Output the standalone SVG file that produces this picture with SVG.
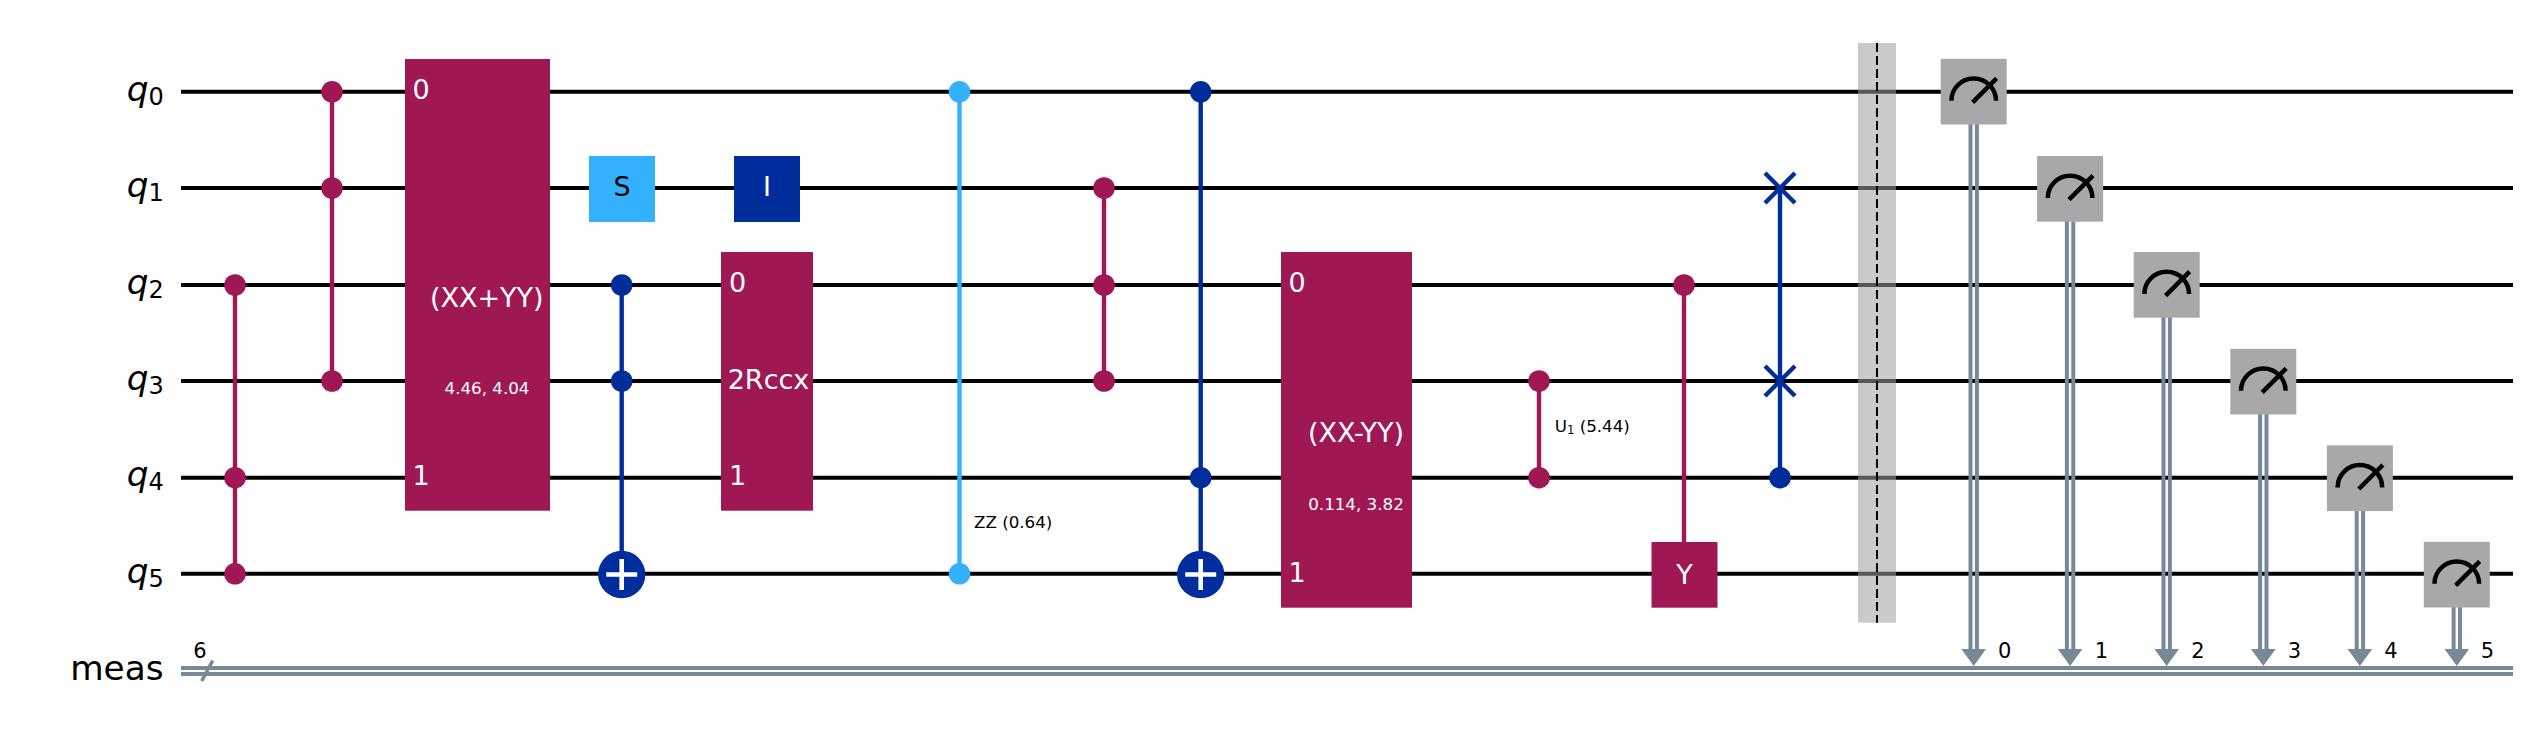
<svg xmlns="http://www.w3.org/2000/svg" xmlns:xlink="http://www.w3.org/1999/xlink" width="2535" height="744" viewBox="0 0 2535 744">
<style>
text{font-family:"DejaVu Sans",sans-serif}
.w{stroke:#000;stroke-width:4;fill:none}
.c{stroke:#778899;stroke-width:4;fill:none}
.m{fill:#9f1853}.b{fill:#002d9c}.a{fill:#33b1ff}.g{fill:#a8a8a8}
.lm{stroke:#9f1853;stroke-width:4.4;fill:none}.lb{stroke:#002d9c;stroke-width:4.4;fill:none}.la{stroke:#33b1ff;stroke-width:4.4;fill:none}
.gt{font-size:27px;fill:#fff}
.gc{font-size:27px;fill:#fff;text-anchor:middle}
.sp{font-size:16.700px;fill:#fff;text-anchor:middle}
.lab{font-size:16.700px;fill:#000}
.reg{font-size:34.300px;fill:#000;font-style:italic}
.sub{font-size:24px;font-style:normal}
.num{font-size:21px;fill:#000;text-anchor:middle}
.ar{fill:#778899}
.nd{stroke:#000;stroke-width:4.5;fill:none}
.pl{stroke:#fff;stroke-width:4.6;fill:none}
.sw{stroke:#002d9c;stroke-width:4.4;fill:none}
</style>
<defs>
<g id="meter"><rect class="g" x="-33" y="-33" width="66" height="65.700"/><path class="nd" d="M-22.300 9A22.300 22.300 0 0 1 22.300 9M-1.100 10.600L22.900 -13.400"/></g>
<g id="plus"><circle class="b" r="23.700"/><path class="pl" d="M-15.500 0H15.500M0 -15.500V15.500"/></g>
<path id="cross" class="sw" d="M-15 -15L15 15M-15 15L15 -15"/>
<polygon id="head" class="ar" points="-12.300,-17 12.300,-17 0,0"/>
</defs>
<rect width="2535" height="744" fill="#fff"/>
<g id="connectors">
<g id="wires">
<path class="w" d="M181 91.800H2513M181 188H2513M181 285H2513M181 381H2513M181 477.700H2513M181 573.800H2513"/>
<path class="c" d="M181 668H2513M181 674H2513"/>
<path d="M201.700 681L212.700 660.700" stroke="#778899" stroke-width="3.500" fill="none"/>
</g>
<path class="lm" d="M235 285V573.800M332 91.800V381M1104 188V381M1539 381V477.700M1684 285V542"/>
<path class="lb" d="M621.700 285V574M1200.700 91.800V574M1780 188V477.700"/>
<path class="la" d="M959.500 91.800V573.800"/>
<path class="c" d="M1970.500 92V650M1976.900 92V650M2066.900 188.500V650M2073.300 188.500V650M2163.500 285V650M2169.900 285V650M2260.100 381.500V650M2266.500 381.500V650M2356.700 478V650M2363.100 478V650M2453.600 574V650M2460 574V650"/>
</g>
<g id="reg-q0"><text class="reg" x="126.800" y="100.500">q<tspan class="sub" dy="4">0</tspan></text></g>
<g id="reg-q1"><text class="reg" x="126.800" y="196.700">q<tspan class="sub" dy="4">1</tspan></text></g>
<g id="reg-q2"><text class="reg" x="126.800" y="293.700">q<tspan class="sub" dy="4">2</tspan></text></g>
<g id="reg-q3"><text class="reg" x="126.800" y="389.700">q<tspan class="sub" dy="4">3</tspan></text></g>
<g id="reg-q4"><text class="reg" x="126.800" y="486.400">q<tspan class="sub" dy="4">4</tspan></text></g>
<g id="reg-q5"><text class="reg" x="126.800" y="582.500">q<tspan class="sub" dy="4">5</tspan></text></g>
<g id="reg-meas"><text x="70.200" y="680" style="font-size:34.300px">meas</text><text class="num" x="200" y="658">6</text></g>
<g id="ccz1" class="m"><circle cx="235" cy="285" r="10.800"/><circle cx="235" cy="477.700" r="10.800"/><circle cx="235" cy="573.800" r="10.800"/></g>
<g id="ccz2" class="m"><circle cx="332" cy="91.800" r="10.800"/><circle cx="332" cy="188" r="10.800"/><circle cx="332" cy="381" r="10.800"/></g>
<g id="xxplusyy"><rect class="m" x="405" y="59" width="145" height="451.700"/><text class="gt" x="412.500" y="98.500">0</text><text class="gt" x="412.500" y="485">1</text><text class="gc" x="486.800" y="306.500">(XX+YY)</text><text class="sp" x="487" y="394">4.46, 4.04</text></g>
<g id="s-gate"><rect class="a" x="589" y="156" width="66" height="66"/><text class="gc" x="622" y="196" style="fill:#000">S</text></g>
<g id="i-gate"><rect class="b" x="734" y="156" width="66" height="66"/><text class="gc" x="767" y="196">I</text></g>
<g id="ccx1"><circle class="b" cx="621.700" cy="285" r="10.800"/><circle class="b" cx="621.700" cy="381" r="10.800"/><use xlink:href="#plus" href="#plus" x="621.700" y="574.500"/></g>
<g id="rccx"><rect class="m" x="721" y="252" width="92" height="258.700"/><text class="gt" x="729" y="292">0</text><text class="gt" x="729" y="485">1</text><text class="gc" x="768.500" y="389.300">2Rccx</text></g>
<g id="zz"><circle class="a" cx="959.500" cy="91.800" r="10.800"/><circle class="a" cx="959.500" cy="573.800" r="10.800"/><text class="lab" x="974" y="527.500">ZZ (0.64)</text></g>
<g id="ccz3" class="m"><circle cx="1104" cy="188" r="10.800"/><circle cx="1104" cy="285" r="10.800"/><circle cx="1104" cy="381" r="10.800"/></g>
<g id="ccx2"><circle class="b" cx="1200.700" cy="91.800" r="10.800"/><circle class="b" cx="1200.700" cy="477.700" r="10.800"/><use xlink:href="#plus" href="#plus" x="1200.700" y="574.500"/></g>
<g id="xxminusyy"><rect class="m" x="1281" y="252" width="131" height="355.700"/><text class="gt" x="1288.500" y="292">0</text><text class="gt" x="1288.500" y="582">1</text><text class="gc" x="1356" y="441.500">(XX-YY)</text><text class="sp" x="1356" y="510">0.114, 3.82</text></g>
<g id="cu1"><circle class="m" cx="1539" cy="381" r="10.800"/><circle class="m" cx="1539" cy="477.700" r="10.800"/><text class="lab" x="1554.700" y="432.300">U<tspan font-size="11.700" dy="2">1</tspan><tspan dy="-2"> (5.44)</tspan></text></g>
<g id="cy"><circle class="m" cx="1684" cy="285" r="10.800"/><rect class="m" x="1651.500" y="542" width="66" height="65.700"/><text class="gc" x="1684.500" y="584">Y</text></g>
<g id="swap"><use xlink:href="#cross" href="#cross" x="1780" y="188"/><use xlink:href="#cross" href="#cross" x="1780" y="381"/><circle class="b" cx="1780" cy="477.700" r="10.800"/></g>
<g id="barrier"><rect x="1858" y="43" width="38" height="579.700" fill="#9e9e9e" fill-opacity=".55"/><path d="M1877 43V622.700" stroke="#000" stroke-width="2" stroke-dasharray="9 4" fill="none"/></g>
<g id="m0"><use xlink:href="#meter" href="#meter" x="1973.700" y="91.800"/><use xlink:href="#head" href="#head" x="1973.700" y="666"/><text class="num" x="2004.800" y="657.500">0</text></g>
<g id="m1"><use xlink:href="#meter" href="#meter" x="2070.100" y="189"/><use xlink:href="#head" href="#head" x="2070.100" y="666"/><text class="num" x="2101.500" y="657.500">1</text></g>
<g id="m2"><use xlink:href="#meter" href="#meter" x="2166.700" y="285"/><use xlink:href="#head" href="#head" x="2166.700" y="666"/><text class="num" x="2198" y="657.500">2</text></g>
<g id="m3"><use xlink:href="#meter" href="#meter" x="2263.300" y="381.800"/><use xlink:href="#head" href="#head" x="2263.300" y="666"/><text class="num" x="2294.500" y="657.500">3</text></g>
<g id="m4"><use xlink:href="#meter" href="#meter" x="2359.900" y="478.400"/><use xlink:href="#head" href="#head" x="2359.900" y="666"/><text class="num" x="2391" y="657.500">4</text></g>
<g id="m5"><use xlink:href="#meter" href="#meter" x="2456.800" y="574.800"/><use xlink:href="#head" href="#head" x="2456.800" y="666"/><text class="num" x="2487.500" y="657.500">5</text></g>
</svg>
